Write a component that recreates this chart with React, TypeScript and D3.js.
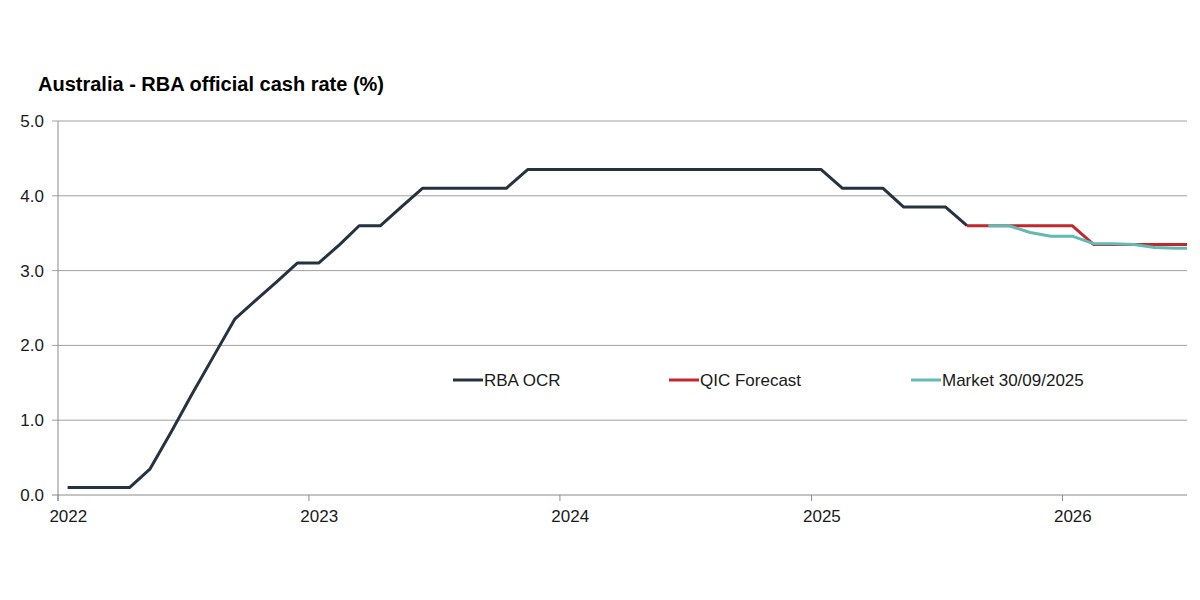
import React from "react";
import * as d3 from "d3";

const title = "Australia - RBA official cash rate (%)";
const yTicks = [0, 1, 2, 3, 4, 5];
const xTickYears = [2022, 2023, 2024, 2025, 2026];

// Monthly observations (month label -> value)
const rbaMonths = [
  "2022-01","2022-02","2022-03","2022-04","2022-05","2022-06","2022-07","2022-08","2022-09","2022-10","2022-11","2022-12",
  "2023-01","2023-02","2023-03","2023-04","2023-05","2023-06","2023-07","2023-08","2023-09","2023-10","2023-11","2023-12",
  "2024-01","2024-02","2024-03","2024-04","2024-05","2024-06","2024-07","2024-08","2024-09","2024-10","2024-11","2024-12",
  "2025-01","2025-02","2025-03","2025-04","2025-05","2025-06","2025-07","2025-08",
];
const rbaValues = [
  0.1, 0.1, 0.1, 0.1, 0.35, 0.85, 1.35, 1.85, 2.35, 2.6, 2.85, 3.1,
  3.1, 3.35, 3.6, 3.6, 3.85, 4.1, 4.1, 4.1, 4.1, 4.1, 4.35, 4.35,
  4.35, 4.35, 4.35, 4.35, 4.35, 4.35, 4.35, 4.35, 4.35, 4.35, 4.35, 4.35,
  4.35, 4.1, 4.1, 4.1, 3.85, 3.85, 3.85, 3.6,
];

const qicMonths = ["2025-08","2025-09","2025-10","2025-11","2025-12","2026-01","2026-02","2026-03","2026-04","2026-05","2026-06","2026-07"];
const qicValues = [3.6, 3.6, 3.6, 3.6, 3.6, 3.6, 3.35, 3.35, 3.35, 3.35, 3.35, 3.35];

const mktMonths = ["2025-09","2025-10","2025-11","2025-12","2026-01","2026-02","2026-03","2026-04","2026-05","2026-06","2026-07"];
const mktValues = [3.6, 3.6, 3.51, 3.46, 3.46, 3.36, 3.36, 3.35, 3.31, 3.3, 3.3];

const legendNames = ["RBA OCR", "QIC Forecast", "Market 30/09/2025"];
const colors = ["#25323f", "#c0282d", "#62bab5"];

const W = 1200;
const H = 600;
const m = { left: 58, right: 1187, top: 121, bottom: 495 };
const FONT = "'Liberation Sans', Arial, sans-serif";

const parseMonth = d3.timeParse("%Y-%m");
const midMonth = (s: string) => {
  const d = parseMonth(s) as Date;
  return d3.timeDay.offset(d, 14);
};

export default function App() {
  const x = d3
    .scaleTime()
    .domain([new Date(2022, 0, 1), new Date(2026, 6, 1)])
    .range([m.left, m.right]);
  const y = d3.scaleLinear().domain([0, 5]).range([m.bottom, m.top]);

  const line = d3
    .line<[string, number]>()
    .x((d) => x(midMonth(d[0])))
    .y((d) => y(d[1]));

  const series: [string, number][][] = [
    rbaMonths.map((mo, i) => [mo, rbaValues[i]]),
    qicMonths.map((mo, i) => [mo, qicValues[i]]),
    mktMonths.map((mo, i) => [mo, mktValues[i]]),
  ];

  const legendX = [453, 669, 911];
  const legendY = 380;

  return (
    <svg
      width={W}
      height={H}
      style={{ position: "absolute", left: 0, top: 0, background: "#fff" }}
      fontFamily={FONT}
    >
      <defs>
        <clipPath id="plotClip">
          <rect x={m.left} y={0} width={m.right - m.left} height={H} />
        </clipPath>
      </defs>
      <rect width={W} height={H} fill="#fff" />
      <text x={38} y={91} fontSize={20} fontWeight="bold" fill="#000">
        {title}
      </text>

      {/* gridlines */}
      {yTicks.map((t) => (
        <g key={t}>
          <line
            x1={m.left - 6}
            x2={m.right}
            y1={y(t)}
            y2={y(t)}
            stroke={t === 0 ? "#8a8a8a" : "#a0a0a0"}
            strokeWidth={1}
          />
          <text
            x={44}
            y={y(t)}
            dy="0.35em"
            textAnchor="end"
            fontSize={17}
            fill="#1a1a1a"
          >
            {d3.format(".1f")(t)}
          </text>
        </g>
      ))}
      {/* y axis */}
      <line x1={m.left} x2={m.left} y1={m.top} y2={m.bottom + 6} stroke="#8a8a8a" strokeWidth={1} />
      {/* x ticks */}
      {xTickYears.map((yr) => {
        const tx = x(new Date(yr, 0, 1));
        return (
          <g key={yr}>
            <line x1={tx} x2={tx} y1={m.bottom} y2={m.bottom + 6} stroke="#8a8a8a" strokeWidth={1} />
            <text
              x={x(new Date(yr, 0, 16))}
              y={522}
              textAnchor="middle"
              fontSize={17}
              fill="#1a1a1a"
            >
              {yr}
            </text>
          </g>
        );
      })}

      {/* lines */}
      <g clipPath="url(#plotClip)">
        {series.map((s, i) => (
          <path
            key={i}
            d={line(s) || ""}
            fill="none"
            stroke={colors[i]}
            strokeWidth={3}
            strokeLinejoin="round"
          />
        ))}
      </g>

      {/* legend */}
      {legendNames.map((name, i) => (
        <g key={name}>
          <line
            x1={legendX[i]}
            x2={legendX[i] + 30}
            y1={legendY}
            y2={legendY}
            stroke={colors[i]}
            strokeWidth={3}
          />
          <text
            x={legendX[i] + 31}
            y={legendY}
            dy="0.35em"
            fontSize={17}
            fill="#1a1a1a"
          >
            {name}
          </text>
        </g>
      ))}
    </svg>
  );
}
